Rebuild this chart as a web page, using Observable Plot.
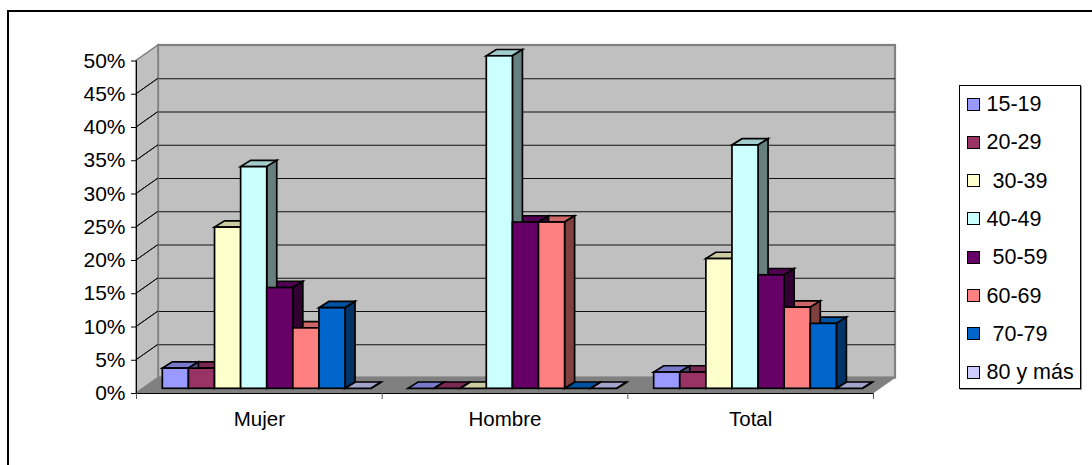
<!DOCTYPE html>
<html lang="es">
<head>
<meta charset="utf-8">
<title>Distribución por edad</title>
<script src="https://cdn.jsdelivr.net/npm/d3@7"></script>
<script src="https://cdn.jsdelivr.net/npm/@observablehq/plot@0.6"></script>
<style>
  html, body { margin: 0; padding: 0; background: #fff; }
  body { width: 1092px; height: 465px; position: relative; overflow: hidden;
         font-family: "Liberation Sans", Arial, sans-serif; color: #000; }
  #frame { position: absolute; left: 7px; top: 9.5px; right: 0; bottom: 0;
           border-left: 2.5px solid #000; border-top: 2.5px solid #000; }
  #chart { position: absolute; left: 0; top: 0; }
  #legend { position: absolute; left: 959px; top: 85px; width: 122px; height: 304px;
            box-sizing: border-box; background: #fff; border: 1px solid #000;
            box-shadow: 1px 1px 0 #999; padding-top: 0; }
  #legend .row { position: absolute; left: 7px; height: 24px; display: flex; align-items: center;
                 font-size: 21.5px; line-height: 24px; white-space: pre; }
  #legend .sw { width: 11px; height: 11px; border: 1.5px solid #000; margin-right: 6.5px; flex: none; }
</style>
</head>
<body>
<div id="frame"></div>
<div id="chart"></div>
<div id="legend"></div>
<script>
// Share of people per age band, by sex and overall (percent).
const categories = ["Mujer", "Hombre", "Total"];
const ages = ["15-19", "20-29", "30-39", "40-49", "50-59", "60-69", "70-79", "80 y más"];
const ageLabels = ["15-19", "20-29", " 30-39", "40-49", " 50-59", "60-69", " 70-79", "80 y más"];
const colors = ["#9999FF", "#993366", "#FFFFCC", "#CCFFFF", "#660066", "#FF8080", "#0066CC", "#CCCCFF"];
const mujer = [3.03, 3.03, 24.24, 33.33, 15.15, 9.09, 12.12, 0];
const hombre = [0, 0, 0, 50, 25, 25, 0, 0];
const total = [2.44, 2.44, 19.51, 36.59, 17.07, 12.2, 9.76, 0];
const yTicks = [0, 5, 10, 15, 20, 25, 30, 35, 40, 45, 50];

const series = [mujer, hombre, total];
const barLead = 0.075;   // gap before the first bar, as a share of a category
const barWidth = 0.10625;
const rows = series.flatMap((values, c) => values.map((value, a) => ({
  age: ages[a],
  value,
  x1: c + barLead + a * barWidth,
  x2: c + barLead + (a + 1) * barWidth
})));

// Oblique projection: the depth of the box, and of a bar and where it stands in the box.
const room = {dx: 22, dy: 15.5};
const bar = {dx: 10, dy: 6.3};
const inset = {dx: 7.9, dy: 4.7};

// A rect mark whose scaled corners are redrawn as a projected polygon.
function face(data, channels, shape, {tint = 1, fill, stroke = "#000", strokeWidth = 1.7} = {}) {
  return Plot.rect(data, {
    ...channels,
    render(index, scales, values) {
      const g = d3.create("svg:g");
      for (const i of index) {
        let color = fill;
        if (values.fill) {
          const c = d3.rgb(values.fill[i]);
          color = d3.rgb(c.r * tint, c.g * tint, c.b * tint).formatHex();
        }
        g.append("polygon")
          .attr("points", shape(values.x1[i], values.x2[i], values.y1[i], values.y2[i]).join(" "))
          .attr("fill", color || "none")
          .attr("stroke", stroke)
          .attr("stroke-width", strokeWidth)
          .attr("stroke-linejoin", "miter");
      }
      return g.node();
    }
  });
}

// Right-hand and upper faces of a box of depth d, seen from the front plane.
const sideFace = (d, o = {dx: 0, dy: 0}) => (x1, x2, y1, y2) => [
  [x2 + o.dx, y1 - o.dy], [x2 + o.dx + d.dx, y1 - o.dy - d.dy],
  [x2 + o.dx + d.dx, y2 - o.dy - d.dy], [x2 + o.dx, y2 - o.dy]
];
const topFace = (d, o = {dx: 0, dy: 0}) => (x1, x2, y1, y2) => [
  [x1 + o.dx, y2 - o.dy], [x2 + o.dx, y2 - o.dy],
  [x2 + o.dx + d.dx, y2 - o.dy - d.dy], [x1 + o.dx + d.dx, y2 - o.dy - d.dy]
];
const diagonal = (x1, x2, y1, y2) => [[x1, y2], [x1 + room.dx, y2 - room.dy]];

const barChannels = {x1: "x1", x2: "x2", y1: () => 0, y2: "value", fill: "age"};
const tickRows = yTicks.map((t) => ({t}));

const chart = Plot.plot({
  width: 1092,
  height: 465,
  marginLeft: 136,
  marginRight: 219,
  marginTop: 60.5,
  marginBottom: 72,
  style: {background: "transparent", fontFamily: "'Liberation Sans', Arial, sans-serif", color: "#000"},
  x: {domain: [0, 3], axis: null},
  y: {domain: [0, 50], axis: null},
  color: {domain: ages, range: colors},
  marks: [
    // Back wall and its gridlines
    Plot.rect([{}], {x1: () => 0, x2: () => 3, y1: () => 0, y2: () => 50, dx: room.dx, dy: -room.dy,
                     fill: "#C0C0C0", stroke: "#808080", strokeWidth: 2.2}),
    Plot.ruleY(yTicks.slice(1, -1), {x1: 0, x2: 3, dx: room.dx, dy: -room.dy, stroke: "#111", strokeWidth: 1}),

    // Left wall and floor
    face([{}], {x1: () => 0, x2: () => 0, y1: () => 0, y2: () => 50}, sideFace(room),
         {fill: "#C0C0C0", stroke: "#808080", strokeWidth: 1.5}),
    face([{}], {x1: () => 0, x2: () => 3, y1: () => 0, y2: () => 0}, topFace(room),
         {fill: "#808080", stroke: "#808080", strokeWidth: 1}),
    face(tickRows.slice(1, -1), {x1: () => 0, x2: () => 0, y1: () => 0, y2: "t"}, diagonal,
         {stroke: "#111", strokeWidth: 1}),

    // Bars: upper faces, then side faces, then fronts, so nearer faces hide farther ones
    face(rows, barChannels, topFace(bar, inset), {tint: 0.8}),
    face(rows, barChannels, sideFace(bar, inset), {tint: 0.5}),
    Plot.rect(rows, {...barChannels, dx: inset.dx, dy: -inset.dy, stroke: "#000", strokeWidth: 1.7}),

    // Axes on the front plane
    Plot.ruleX([0], {y1: 0, y2: 50, stroke: "#000", strokeWidth: 1}),
    Plot.ruleY([0], {x1: 0, x2: 3, stroke: "#000", strokeWidth: 1.2}),
    Plot.axisY({ticks: yTicks, tickFormat: (d) => d + "%", tickSize: 5, tickPadding: 6,
                fontSize: 21, label: null, anchor: "left"}),
    Plot.axisX({ticks: [0, 1, 2, 3], tickFormat: () => "", tickSize: 6, label: null, anchor: "bottom", stroke: "#555"}),
    Plot.text(categories, {x: (d, i) => i + 0.5, y: () => 0, text: (d) => d, dy: 26, fontSize: 20.5})
  ]
});
document.getElementById("chart").append(chart);

// Legend box at the right of the plot
const legend = d3.select("#legend");
ageLabels.forEach((label, i) => {
  const row = legend.append("div").attr("class", "row").style("top", `${6 + i * 38.3}px`);
  row.append("div").attr("class", "sw").style("background", colors[i]);
  row.append("span").text(label);
});
</script>
</body>
</html>
